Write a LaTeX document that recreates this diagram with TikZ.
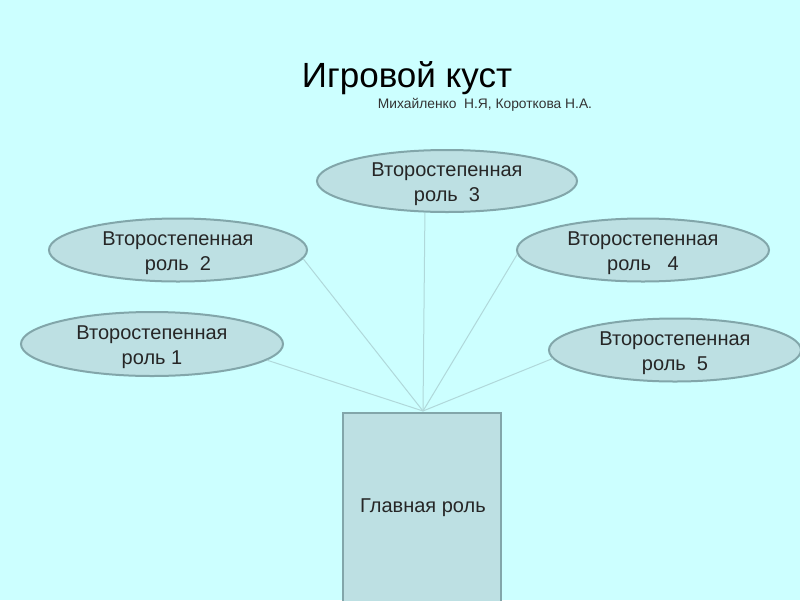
\documentclass[tikz,border=0pt]{standalone}
\usepackage{fontspec}
\setmainfont{Liberation Sans}
\usetikzlibrary{shapes.geometric}
\definecolor{bg}{HTML}{CCFFFF}
\definecolor{boxfill}{HTML}{BDE0E3}
\definecolor{boxline}{HTML}{82A6AA}
\definecolor{link}{HTML}{B0D8DA}
\newcommand{\rolelabel}[2]{\smash{\raisebox{-8pt}{\begin{tabular}{@{}c@{}}#1\\#2\end{tabular}}}}
\tikzset{
  role/.style={ellipse, draw=boxline, line width=2pt, fill=boxfill, inner sep=0pt,
    font=\fontsize{20}{25}\selectfont, text=black!85},
  mainbox/.style={rectangle, draw=boxline, line width=2pt, fill=boxfill, inner sep=0pt,
    font=\fontsize{20}{24}\selectfont, text=black!85},
  linkline/.style={draw=link, line width=1pt}
}
\begin{document}
\begin{tikzpicture}[x=1pt,y=-1pt]
\fill[bg] (0,0) rectangle (800,600);
\useasboundingbox (0,0) rectangle (800,600);
\node[font=\fontsize{35}{40}\selectfont, anchor=base] (title) at (407,87) {Игровой куст};
\node[font=\fontsize{13.8}{16}\selectfont, anchor=base, text=black!80] (authors) at (485,108) {Михайленко\ \ Н.Я, Короткова Н.А.};
\node[mainbox, minimum width=158pt, minimum height=200pt, anchor=north] (main) at (422,412) {};
\node[mainbox, draw=none, fill=none] (maintext) at (423,508) {Главная роль};
\node[role, minimum width=260pt, minimum height=62pt] (e3) at (447,181) {\rolelabel{Второстепенная}{роль\ \ 3}};
\node[role, minimum width=258pt, minimum height=63pt] (e2) at (178,250) {\rolelabel{Второстепенная}{роль\ \ 2}};
\node[role, minimum width=252pt, minimum height=63pt] (e4) at (643,250) {\rolelabel{Второстепенная}{роль\ \ \ 4}};
\node[role, minimum width=262pt, minimum height=64pt] (e1) at (152,344) {\rolelabel{Второстепенная}{роль 1}};
\node[role, minimum width=252pt, minimum height=63pt] (e5) at (675,350) {\rolelabel{Второстепенная}{роль\ \ 5}};
\coordinate (hub) at (423,411);
\draw[linkline] (e1.-8) -- (hub);
\draw[linkline] (e2.-4.5) -- (hub);
\draw[linkline] (e3.-125) -- (hub);
\draw[linkline] (e4.182) -- (hub);
\draw[linkline] (e5.184) -- (hub);
\end{tikzpicture}
\end{document}
